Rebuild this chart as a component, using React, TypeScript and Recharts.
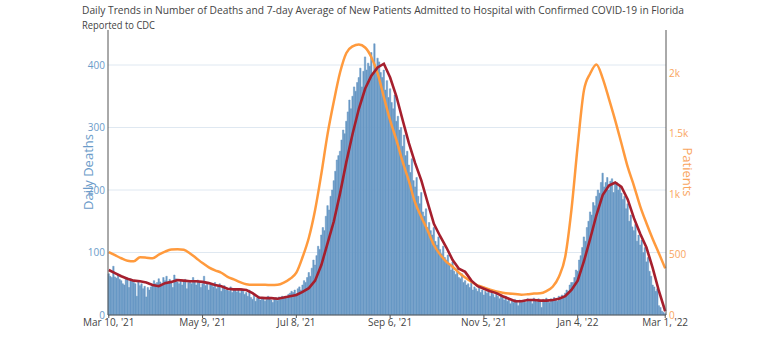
import React from 'react'
import {
  ComposedChart,
  Bar,
  Line,
  XAxis,
  YAxis,
  CartesianGrid,
} from 'recharts'

// daily deaths, one value per day from Mar 10 '21 to Mar 1 '22
const deathsMar21 = [66, 62, 60, 78, 61, 59, 64, 57, 55, 50, 48, 60, 59, 44, 58, 56, 52, 50, 30, 54, 47, 50]
const deathsApr21 = [42, 46, 29, 44, 40, 45, 48, 55, 50, 52, 58, 53, 47, 60, 55, 62, 50, 57, 52, 44, 64, 58, 53, 50, 56, 48, 54, 57, 42, 52]
const deathsMay21 = [55, 50, 60, 53, 48, 56, 52, 44, 50, 62, 47, 52, 40, 50, 48, 45, 52, 42, 46, 50, 38, 44, 47, 40, 42, 38, 45, 36, 40, 42, 37]
const deathsJun21 = [40, 35, 42, 38, 33, 36, 30, 40, 28, 25, 32, 22, 27, 30, 24, 26, 28, 22, 25, 30, 27, 24, 20, 26, 28, 23, 29, 25, 30, 27]
const deathsJul21 = [30, 27, 33, 35, 38, 36, 40, 34, 42, 45, 40, 48, 55, 52, 60, 68, 62, 75, 88, 80, 95, 110, 105, 128, 140, 135, 158, 175, 168, 190, 200]
const deathsAug21 = [215, 230, 248, 255, 262, 280, 296, 290, 310, 325, 344, 330, 350, 365, 358, 372, 380, 395, 365, 390, 413, 392, 403, 398, 420, 385, 434, 395, 411, 405, 388]
const deathsSep21 = [380, 392, 360, 375, 348, 362, 340, 330, 352, 310, 318, 296, 300, 270, 288, 255, 262, 240, 228, 250, 215, 205, 220, 190, 178, 196, 165, 158, 170, 140]
const deathsOct21 = [148, 135, 128, 140, 118, 112, 125, 105, 98, 110, 92, 88, 96, 80, 72, 85, 70, 65, 74, 60, 58, 66, 52, 55, 48, 50, 44, 52, 40, 45, 42]
const deathsNov21 = [38, 45, 36, 40, 32, 38, 35, 42, 30, 36, 33, 28, 38, 30, 26, 32, 28, 24, 30, 22, 26, 18, 24, 20, 25, 22, 15, 24, 20, 23]
const deathsDec21 = [24, 20, 26, 22, 25, 18, 27, 23, 21, 26, 24, 12, 25, 22, 27, 24, 20, 26, 23, 28, 25, 22, 30, 27, 32, 28, 35, 40, 38, 48, 52]
const deathsJan22 = [52, 60, 72, 70, 88, 95, 108, 125, 118, 140, 150, 165, 160, 180, 175, 190, 200, 195, 212, 227, 205, 212, 220, 200, 214, 218, 196, 210, 212, 200, 205]
const deathsFeb22 = [195, 185, 190, 170, 178, 150, 160, 141, 135, 145, 118, 128, 112, 120, 100, 108, 85, 92, 70, 62, 48, 45, 38, 42, 15, 12, 6, 4]
const deathsMar22 = [2]

// 7-day average of deaths, read every 4th day
const avgDeaths4d = [
  72, 67, 62, 58, 55, 54, 52, 48, 46, 51,
  53, 56, 55, 54, 54, 53, 51, 48, 46, 42,
  41, 41, 40, 35, 28, 27, 27, 26, 28, 30,
  32, 37, 43, 55, 80, 115, 150, 195, 245, 290,
  330, 362, 383, 396, 402, 380, 350, 312, 275, 243,
  215, 180, 146, 126, 108, 88, 74, 69, 55, 46,
  42, 38, 35, 30, 26, 22, 22, 24, 24, 23,
  23, 24, 26, 30, 40, 55, 86, 122, 160, 192,
  207, 212, 205, 185, 155, 130, 108, 75, 38, 6,
]

// 7-day average of new patients admitted, read every 4th day
const patients4d = [
  520, 495, 470, 450, 445, 478, 475, 470, 500, 525,
  542, 545, 540, 510, 470, 430, 395, 370, 350, 315,
  295, 272, 255, 250, 250, 250, 248, 250, 268, 300,
  350, 480, 640, 870, 1170, 1500, 1770, 2010, 2170, 2225,
  2240, 2215, 2135, 2000, 1804, 1612, 1450, 1270, 1110, 930,
  810, 700, 580, 500, 440, 400, 350, 310, 275, 245,
  228, 210, 195, 185, 178, 174, 168, 172, 178, 180,
  198, 234, 317, 480, 870, 1400, 1860, 2000, 2075, 1960,
  1790, 1612, 1420, 1226, 1070, 900, 760, 630, 510, 386,
]

const xTicks = ["Mar 10, '21", "May 9, '21", "Jul 8, '21", "Sep 6, '21", "Nov 5, '21", "Jan 4, '22", "Mar 1, '22"]
const leftTicks = [0, 100, 200, 300, 400]
const rightTicks = [0, 500, 1000, 1500, 2000]

const MONTHS = ['Jan', 'Feb', 'Mar', 'Apr', 'May', 'Jun', 'Jul', 'Aug', 'Sep', 'Oct', 'Nov', 'Dec']

const deaths = [
  ...deathsMar21, ...deathsApr21, ...deathsMay21, ...deathsJun21, ...deathsJul21, ...deathsAug21,
  ...deathsSep21, ...deathsOct21, ...deathsNov21, ...deathsDec21, ...deathsJan22, ...deathsFeb22, ...deathsMar22,
]

const start = Date.UTC(2021, 2, 10)
const data = deaths.map((d, i) => {
  const dt = new Date(start + i * 86400000)
  const label = `${MONTHS[dt.getUTCMonth()]} ${dt.getUTCDate()}, '${String(dt.getUTCFullYear()).slice(2)}`
  return {
    date: label,
    deaths: d,
    avg: i % 4 === 0 ? avgDeaths4d[i / 4] ?? null : null,
    patients: i % 4 === 0 ? patients4d[i / 4] ?? null : null,
  }
})

const fmtK = (v: number) => (v >= 1000 ? `${v / 1000}k` : `${v}`)

export default function App() {
  return (
    <div style={{ position: 'relative', width: 768, height: 343, fontFamily: '"Open Sans", sans-serif' }}>
      <style>{`body{margin:0}`}</style>
      <div style={{ position: 'absolute', left: 0, top: 0 }}>
        <ComposedChart
          width={768}
          height={343}
          data={data}
          margin={{ top: 30, right: 66, bottom: 0, left: 72 }}
          barCategoryGap={0}
        >
          <CartesianGrid yAxisId="left" vertical={false} stroke="#dfe8f1" strokeWidth={1} horizontalValues={[100, 200, 300, 400]} />
          <XAxis
            dataKey="date"
            ticks={xTicks}
            interval={0}
            height={28}
            tick={{ fill: '#444', fontSize: 10 }}
            tickSize={3}
            tickMargin={1}
            axisLine={{ stroke: '#555' }}
            tickLine={{ stroke: '#555' }}
          />
          <YAxis
            yAxisId="left"
            domain={[0, 456]}
            ticks={leftTicks}
            width={36}
            tick={{ fill: '#6b9bc9', fontSize: 10 }}
            tickLine={false}
            tickSize={2}
            tickMargin={1}
            axisLine={{ stroke: '#555' }}
          />
          <YAxis
            yAxisId="right"
            orientation="right"
            domain={[0, 2360]}
            ticks={rightTicks}
            tickFormatter={fmtK}
            width={36}
            tick={{ fill: '#f9a55e', fontSize: 10 }}
            tickLine={false}
            tickSize={2}
            tickMargin={1}
            axisLine={{ stroke: '#555' }}
          />
          <Bar
            yAxisId="left"
            dataKey="deaths"
            fill="#6898c5"
            stroke="#6898c5"
            strokeWidth={0.5}
            barSize={2}
            isAnimationActive={false}
          />
          <Line
            yAxisId="right"
            dataKey="patients"
            stroke="#ff9a3d"
            strokeWidth={2.5}
            dot={false}
            connectNulls
            type="monotone"
            isAnimationActive={false}
          />
          <Line
            yAxisId="left"
            dataKey="avg"
            stroke="#a51f2d"
            strokeWidth={2.6}
            dot={false}
            connectNulls
            type="linear"
            isAnimationActive={false}
          />
        </ComposedChart>
      </div>
      <svg width={768} height={343} style={{ position: 'absolute', left: 0, top: 0, pointerEvents: 'none' }}>
        <text x={82} y={14} fontSize={11.5} fill="#444" textLength={602} lengthAdjust="spacingAndGlyphs">
          Daily Trends in Number of Deaths and 7-day Average of New Patients Admitted to Hospital with Confirmed COVID-19 in Florida
        </text>
        <text x={82} y={29} fontSize={11.5} fill="#444" textLength={73} lengthAdjust="spacingAndGlyphs">
          Reported to CDC
        </text>
        <text transform="translate(93,172) rotate(-90)" textAnchor="middle" fontSize={13} fill="#6b9bc9">
          Daily Deaths
        </text>
        <text transform="translate(683,172) rotate(90)" textAnchor="middle" fontSize={13} fill="#f9a55e">
          Patients
        </text>
      </svg>
    </div>
  )
}
